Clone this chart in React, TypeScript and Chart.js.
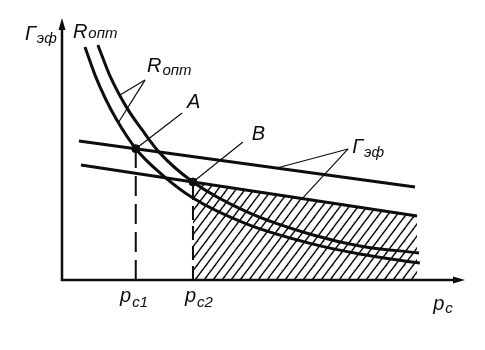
import React, { useEffect, useRef } from "react";
import { Chart, registerables } from "chart.js";

Chart.register(...registerables);

// Optimum resistance curves R_опт versus p_c (inner and outer branch)
const innerCurveX = [0.57, 0.82, 1.07, 1.36, 1.83, 2.43, 3.25, 4.59, 6.23, 7.39, 8.88];
const innerCurveY = [8.96, 7.88, 7.0, 6.15, 5.05, 4.12, 3.15, 2.15, 1.38, 1.0, 0.65];
const outerCurveX = [0.89, 1.19, 1.61, 1.99, 2.43, 3.25, 4.59, 6.23, 7.39, 8.86];
const outerCurveY = [9.04, 7.85, 6.62, 5.77, 4.88, 3.77, 2.62, 1.73, 1.31, 1.04];

// Effective gamma lines Г_эф (end points)
const gammaUpperX = [0.42, 8.76];
const gammaUpperY = [5.35, 3.58];
const gammaLowerX = [0.47, 8.81];
const gammaLowerY = [4.42, 2.46];

// Operating points A and B (p_c1, p_c2)
const pointNames = ["A", "B"];
const pointX = [1.83, 3.25];
const pointY = [5.05, 3.77];

const INK = "#0d0d0d";
const FONT = "'Liberation Sans', 'DejaVu Sans', Arial, sans-serif";

type Pt = { x: number; y: number };
const zip = (xs: number[], ys: number[]): Pt[] => xs.map((x, i) => ({ x, y: ys[i] }));

// linear read-off along a polyline, used to attach leader lines to marks
function yOn(xs: number[], ys: number[], x: number): number {
  for (let i = 0; i < xs.length - 1; i++) {
    if (x >= xs[i] && x <= xs[i + 1]) {
      const t = (x - xs[i]) / (xs[i + 1] - xs[i]);
      return ys[i] + t * (ys[i + 1] - ys[i]);
    }
  }
  return ys[ys.length - 1];
}

// text labels: main letter with italic subscript, anchored in data units
const labels = [
  { main: "Г", sub: "эф", x: -0.92, y: 9.23, dy: 3 },
  { main: "R", sub: "опт", x: 0.27, y: 9.31, dy: 0 },
  { main: "R", sub: "опт", x: 2.11, y: 8.0, dy: 3 },
  { main: pointNames[0], sub: "", x: 3.1, y: 6.62, dy: 0 },
  { main: pointNames[1], sub: "", x: 4.71, y: 5.38, dy: 0 },
  { main: "Г", sub: "эф", x: 7.2, y: 4.88, dy: 4 },
  { main: "p", sub: "c1", x: 1.44, y: -0.85, dy: 5 },
  { main: "p", sub: "c2", x: 3.05, y: -0.85, dy: 5 },
  { main: "p", sub: "c", x: 9.21, y: -1.15, dy: 3 },
];

// leader lines: from a label anchor to the mark it names
const rLeaderFrom = { x: 2.06, y: 7.69 };
const aLeaderFrom = { x: 2.98, y: 6.42 };
const bLeaderFrom = { x: 4.49, y: 5.31 };
const gLeaderFrom = { x: 7.1, y: 5.04 };

function makeHatch(): CanvasPattern | string {
  const w = 9;
  const h = 12;
  const c = document.createElement("canvas");
  c.width = w;
  c.height = h;
  const g = c.getContext("2d");
  if (!g) return "rgba(0,0,0,0.2)";
  g.strokeStyle = INK;
  g.lineWidth = 1.4;
  for (const k of [-1, 0, 1]) {
    g.beginPath();
    g.moveTo(k * w - w, 2 * h);
    g.lineTo(k * w + 2 * w, -h);
    g.stroke();
  }
  return g.createPattern(c, "repeat") || "rgba(0,0,0,0.2)";
}

const axesPlugin = {
  id: "axesArrows",
  beforeDatasetsDraw(chart: Chart) {
    const { ctx, chartArea } = chart;
    const { left, right, top, bottom } = chartArea;
    ctx.save();
    ctx.strokeStyle = INK;
    ctx.fillStyle = INK;
    ctx.lineWidth = 2.5;
    ctx.beginPath();
    ctx.moveTo(left, bottom + 1);
    ctx.lineTo(left, top + 6);
    ctx.moveTo(left - 1, bottom);
    ctx.lineTo(right - 6, bottom);
    ctx.stroke();
    // arrow heads
    ctx.beginPath();
    ctx.moveTo(left, top - 2);
    ctx.lineTo(left - 3.5, top + 10);
    ctx.lineTo(left + 3.5, top + 10);
    ctx.closePath();
    ctx.fill();
    ctx.beginPath();
    ctx.moveTo(right, bottom);
    ctx.lineTo(right - 12, bottom - 3.5);
    ctx.lineTo(right - 12, bottom + 3.5);
    ctx.closePath();
    ctx.fill();
    ctx.restore();
  },
};

const labelPlugin = {
  id: "subLabels",
  afterDraw(chart: Chart) {
    const { ctx } = chart;
    const xs = chart.scales.x;
    const ys = chart.scales.y;
    ctx.save();
    ctx.fillStyle = INK;
    ctx.textBaseline = "alphabetic";
    ctx.textAlign = "left";
    for (const l of labels) {
      const px = xs.getPixelForValue(l.x);
      const py = ys.getPixelForValue(l.y);
      ctx.font = `italic 20px ${FONT}`;
      ctx.fillText(l.main, px, py);
      const w = ctx.measureText(l.main).width;
      if (l.sub) {
        ctx.font = `italic 15px ${FONT}`;
        ctx.fillText(l.sub, px + w + 1, py + l.dy);
      }
    }
    ctx.restore();
  },
};

export default function App() {
  const canvasRef = useRef<HTMLCanvasElement | null>(null);

  useEffect(() => {
    const canvas = canvasRef.current;
    if (!canvas) return;
    const hatch = makeHatch();

    const line = (data: Pt[], extra: Record<string, unknown> = {}) => ({
      data,
      showLine: true,
      borderColor: INK,
      backgroundColor: INK,
      borderWidth: 3,
      pointRadius: 0,
      fill: false,
      ...extra,
    });

    const rOuterX = 1.44;
    const rInnerX = 1.4;
    const gUpperX = 5.33;
    const gLowerX = 5.96;

    const chart = new Chart(canvas, {
      type: "scatter",
      data: {
        datasets: [
          // hatched region under the lower Г_эф line, right of p_c2
          line(
            [
              { x: pointX[1], y: pointY[1] },
              { x: gammaLowerX[1], y: gammaLowerY[1] },
            ],
            { borderWidth: 0, fill: "origin", backgroundColor: hatch, order: 10 }
          ),
          // dashed verticals at p_c1 and p_c2
          line([{ x: pointX[0], y: 0 }, { x: pointX[0], y: pointY[0] }], {
            borderWidth: 2,
            borderDash: [20, 8],
            order: 8,
          }),
          line([{ x: pointX[1], y: 0 }, { x: pointX[1], y: pointY[1] }], {
            borderWidth: 2,
            borderDash: [14, 6],
            order: 8,
          }),
          // Г_эф lines
          line(zip(gammaUpperX, gammaUpperY), { order: 5 }),
          line(zip(gammaLowerX, gammaLowerY), { order: 5 }),
          // R_опт curves
          line(zip(innerCurveX, innerCurveY), { cubicInterpolationMode: "monotone", order: 4 }),
          line(zip(outerCurveX, outerCurveY), { cubicInterpolationMode: "monotone", order: 4 }),
          // leader lines
          line([rLeaderFrom, { x: rOuterX, y: yOn(outerCurveX, outerCurveY, rOuterX) }], { borderWidth: 1.2, order: 3 }),
          line([rLeaderFrom, { x: rInnerX, y: yOn(innerCurveX, innerCurveY, rInnerX) }], { borderWidth: 1.2, order: 3 }),
          line([aLeaderFrom, { x: pointX[0], y: pointY[0] }], { borderWidth: 1.2, order: 3 }),
          line([bLeaderFrom, { x: pointX[1], y: pointY[1] }], { borderWidth: 1.2, order: 3 }),
          line([gLeaderFrom, { x: gUpperX, y: yOn(gammaUpperX, gammaUpperY, gUpperX) }], { borderWidth: 1.2, order: 3 }),
          line([gLeaderFrom, { x: gLowerX, y: yOn(gammaLowerX, gammaLowerY, gLowerX) }], { borderWidth: 1.2, order: 3 }),
          // operating points
          {
            data: zip(pointX, pointY),
            showLine: false,
            pointRadius: 4,
            pointBackgroundColor: INK,
            pointBorderColor: INK,
            order: 1,
          },
        ] as any,
      },
      options: {
        animation: false,
        responsive: false,
        devicePixelRatio: 1,
        layout: { padding: { left: 62, right: 20, top: 20, bottom: 70 } },
        plugins: { legend: { display: false }, tooltip: { enabled: false } },
        events: [],
        scales: {
          x: { type: "linear", min: 0, max: 10, display: false },
          y: { type: "linear", min: 0, max: 10, display: false },
        },
      },
      plugins: [axesPlugin, labelPlugin],
    });

    return () => chart.destroy();
  }, []);

  return (
    <div style={{ position: "absolute", left: 0, top: 0, width: 485, height: 350, background: "#fff" }}>
      <canvas ref={canvasRef} width={485} height={350} />
    </div>
  );
}
